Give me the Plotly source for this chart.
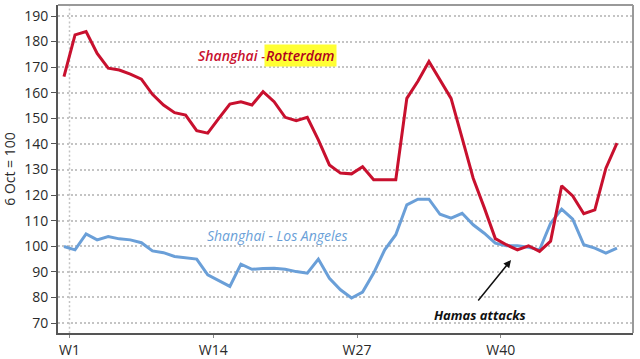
import plotly.graph_objects as go

weeks = list(range(1, 52))
rotterdam = [166.3, 182.6, 183.9, 175.4, 169.6, 168.9, 167.3, 165.3, 159.4, 155.2,
             152.2, 151.3, 145.2, 144.2, 150.0, 155.6, 156.5, 155.2, 160.4, 156.5,
             150.4, 149.1, 150.4, 141.6, 131.8, 128.6, 128.3, 131.1, 126.0, 126.0,
             126.0, 157.8, 164.5, 172.2, 165.1, 157.8, 142.3, 126.6, 115.1, 103.0,
             100.6, 98.6, 100.2, 98.0, 102.0, 123.6, 119.7, 112.7, 114.2, 130.5, 140.3]
los_angeles = [99.9, 98.6, 104.8, 102.5, 103.8, 102.9, 102.5, 101.4, 98.2, 97.5,
               96.0, 95.6, 95.0, 88.8, 86.7, 84.3, 93.0, 91.0, 91.3, 91.4,
               91.0, 90.1, 89.5, 95.0, 87.5, 83.0, 79.8, 82.1, 89.5, 98.6,
               104.5, 116.2, 118.4, 118.4, 112.5, 111.0, 112.9, 108.4, 105.1, 101.2,
               100.2, 100.2, 99.6, 98.6, 109.0, 114.5, 110.6, 100.6, 99.3, 97.3, 99.3]
tick_vals = [1.5, 14.5, 27.5, 40.5]
tick_text = ["W1", "W14", "W27", "W40"]
y_ticks = list(range(70, 200, 10))

RED = "#c8102e"
BLUE = "#6a9fd8"
FONT = "Open Sans"

fig = go.Figure()
fig.add_trace(go.Scatter(x=weeks, y=los_angeles, mode="lines",
                         line=dict(color=BLUE, width=3), hoverinfo="skip"))
fig.add_trace(go.Scatter(x=weeks, y=rotterdam, mode="lines",
                         line=dict(color=RED, width=3), hoverinfo="skip"))

fig.update_layout(
    width=640, height=359,
    margin=dict(l=58, r=7, t=5, b=26),
    paper_bgcolor="white", plot_bgcolor="white",
    showlegend=False,
    font=dict(family=FONT, size=14, color="#2a2a2a"),
)
fig.update_xaxes(range=[0.46, 52.45], tickvals=tick_vals, ticktext=tick_text,
                 automargin=False,
                 showgrid=False, zeroline=False,
                 showline=True, linecolor="#555555", linewidth=2,
                 ticks="outside", ticklen=3, tickcolor="#888888",
                 tickfont=dict(size=14, color="#2a2a2a"), ticklabelstandoff=0)
fig.update_yaxes(range=[66.1, 194.3], tickvals=y_ticks,
                 automargin=False,
                 showgrid=True, gridcolor="#c4c4c4", gridwidth=1.5, griddash="2px,2.3px",
                 zeroline=False,
                 showline=True, linecolor="#555555", linewidth=2,
                 ticks="outside", ticklen=5, tickcolor="#555555",
                 tickfont=dict(size=14, color="#2a2a2a"),
                 title=dict(text="6 Oct = 100", font=dict(size=14, color="#2a2a2a"), standoff=6))

# W1 vertical dotted gridline and top/right frame
fig.add_shape(type="line", xref="x", yref="paper", x0=1.5, x1=1.5, y0=0, y1=1,
              line=dict(color="#c4c4c4", width=1.5, dash="2px,2.3px"), layer="below")
fig.add_shape(type="line", xref="paper", yref="paper", x0=0, x1=1, y0=1, y1=1,
              line=dict(color="#999999", width=2))
fig.add_shape(type="line", xref="paper", yref="paper", x0=1, x1=1, y0=0, y1=1,
              line=dict(color="#999999", width=2))

fig.add_annotation(x=12.93, y=174.75, xanchor="left", yanchor="middle", showarrow=False,
                   text="Shanghai - ",
                   font=dict(family=FONT, size=14, color=RED, style="italic", weight=600))
fig.add_annotation(x=19.1, y=174.75, xanchor="left", yanchor="middle", showarrow=False,
                   text="Rotterdam", bgcolor="#ffff33", borderpad=1,
                   font=dict(family=FONT, size=14, color="#b00020", style="italic", weight=600))
fig.add_annotation(x=13.75, y=104.4, xanchor="left", yanchor="middle", showarrow=False,
                   text="Shanghai - Los Angeles",
                   font=dict(family=FONT, size=14, color=BLUE, style="italic"))
fig.add_annotation(x=34.27, y=73.1, xanchor="left", yanchor="middle", showarrow=False,
                   text="Hamas attacks",
                   font=dict(family=FONT, size=13, color="#111111", style="italic", weight="bold"))
fig.add_annotation(x=41.42, y=94.6, ax=-34, ay=42, text="", showarrow=True,
                   arrowhead=2, arrowsize=1, arrowwidth=1.5, arrowcolor="#111111")

fig.write_html("out.html", config={"displayModeBar": False},
               post_script="document.body.style.margin='0';")
